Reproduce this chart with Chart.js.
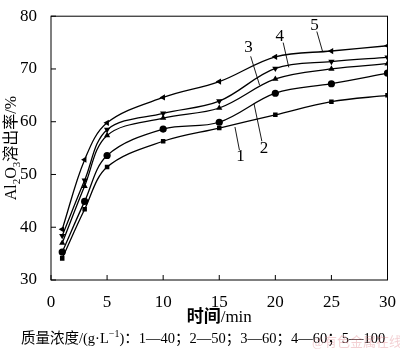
<!DOCTYPE html>
<html>
<head>
<meta charset="utf-8">
<script src="https://cdn.jsdelivr.net/npm/chart.js@4.4.0/dist/chart.umd.min.js"></script>
<style>
  html, body { margin: 0; padding: 0; background: #fff; }
  #wrap { width: 400px; height: 350px; }
</style>
</head>
<body>
<div id="wrap"><canvas id="chart"></canvas></div>
<script>
const times = [1, 3, 5, 10, 15, 20, 25, 30];
const conc1 = [34.1, 43.4, 51.4, 56.3, 58.8, 61.3, 63.8, 65.0];
const conc2 = [35.3, 44.9, 53.6, 58.6, 59.9, 65.4, 67.2, 69.2];
const conc3 = [37.0, 47.8, 57.4, 60.7, 62.6, 68.1, 70.0, 71.0];
const conc4 = [38.4, 48.9, 58.5, 61.6, 63.9, 70.1, 71.4, 72.2];
const conc5 = [39.6, 52.8, 59.8, 64.6, 67.6, 72.3, 73.4, 74.4];
const xTicks = [0, 5, 10, 15, 20, 25, 30];
const yTicks = [30, 40, 50, 60, 70, 80];

// curve labels: [text, label x, label y, leader from x/y, leader to x/y] in data units
const curveLabels = [
    ['1', 16.9, 53.4, 16.8, 54.6, 16.4, 59.0],
    ['2', 19.0, 55.0, 18.8, 56.3, 18.1, 63.4],
    ['3', 17.6, 74.0, 17.8, 72.4, 18.6, 66.9],
    ['4', 20.4, 76.2, 20.7, 75.0, 21.2, 70.3],
    ['5', 23.5, 78.2, 23.7, 77.1, 24.2, 73.4]
];

const serif = '"Liberation Serif", "Times New Roman", serif';
const cjk = '"Liberation Serif", "Noto Sans CJK SC", serif';

function makeSet(vals, style, rot) {
    return {
        data: times.map((t, i) => ({ x: t, y: vals[i] })),
        borderColor: '#000',
        backgroundColor: '#000',
        borderWidth: 1.3,
        pointStyle: style,
        rotation: rot,
        pointRadius: style === 'rect' ? 3.2 : 3.6,
        pointBorderWidth: 0,
        tension: 0.35,
        fill: false
    };
}

const framePlugin = {
    id: 'frame',
    afterDraw(chart) {
        const c = chart.ctx;
        const a = chart.chartArea;
        const xs = chart.scales.x, ys = chart.scales.y;
        c.save();
        c.strokeStyle = '#000';
        c.lineWidth = 1;
        c.strokeRect(a.left, a.top, a.right - a.left, a.bottom - a.top);
        c.beginPath();
        xTicks.forEach(v => {
            const px = xs.getPixelForValue(v);
            c.moveTo(px, a.bottom);
            c.lineTo(px, a.bottom - 5);
        });
        yTicks.forEach(v => {
            const py = ys.getPixelForValue(v);
            c.moveTo(a.left, py);
            c.lineTo(a.left + 5, py);
        });
        c.stroke();

        // curve labels with leader lines
        c.lineWidth = 0.9;
        c.fillStyle = '#000';
        c.font = '17px ' + serif;
        c.textAlign = 'center';
        c.textBaseline = 'middle';
        curveLabels.forEach(l => {
            c.beginPath();
            c.moveTo(xs.getPixelForValue(l[3]), ys.getPixelForValue(l[4]));
            c.lineTo(xs.getPixelForValue(l[5]), ys.getPixelForValue(l[6]));
            c.stroke();
            c.fillText(l[0], xs.getPixelForValue(l[1]), ys.getPixelForValue(l[2]));
        });

        // y axis title with subscripts
        const parts = [
            ['Al', 16, 0], ['2', 11, 4], ['O', 16, 0], ['3', 11, 4], ['溶出率/%', 16, 0]
        ];
        c.textAlign = 'left';
        c.textBaseline = 'alphabetic';
        let total = 0;
        parts.forEach(p => { c.font = p[1] + 'px ' + cjk; p.push(c.measureText(p[0]).width); total += p[3]; });
        c.translate(16, (a.top + a.bottom) / 2);
        c.rotate(-Math.PI / 2);
        let x0 = -total / 2;
        parts.forEach(p => {
            c.font = p[1] + 'px ' + cjk;
            c.fillText(p[0], x0, 0 + p[2]);
            x0 += p[3];
        });
        c.restore();

        // x axis title and concentration note
        c.save();
        c.fillStyle = '#000';
        c.textAlign = 'left';
        c.textBaseline = 'middle';
        const t1 = '时间', t2 = '/min';
        c.font = 'bold 17px ' + cjk;
        const w1 = c.measureText(t1).width;
        c.font = '17px ' + serif;
        const w2 = c.measureText(t2).width;
        let tx = (a.left + a.right) / 2 - (w1 + w2) / 2;
        c.font = 'bold 17px ' + cjk;
        c.fillText(t1, tx, 318);
        c.font = '17px ' + serif;
        c.fillText(t2, tx + w1, 318);

        c.font = '14.5px ' + cjk;
        const note1 = '质量浓度/(g·L';
        const sup = '−1';
        const note2 = ')：1—40；2—50；3—60；4—60；5—100';
        let nx = 21;
        c.fillText(note1, nx, 339);
        nx += c.measureText(note1).width;
        c.font = '10px ' + cjk;
        c.fillText(sup, nx, 334);
        nx += c.measureText(sup).width;
        c.font = '14.5px ' + cjk;
        c.fillText(note2, nx, 339);
        c.font = '13px ' + cjk;
        c.fillStyle = 'rgba(220,120,130,0.35)';
        c.fillText('@有色金属在线', 312, 343);
        c.restore();
    }
};

new Chart(document.getElementById('chart'), {
    type: 'line',
    data: {
        datasets: [
            makeSet(conc1, 'rect', 0),
            makeSet(conc2, 'circle', 0),
            makeSet(conc3, 'triangle', 0),
            makeSet(conc4, 'triangle', 180),
            makeSet(conc5, 'triangle', 270)
        ]
    },
    options: {
        responsive: true,
        maintainAspectRatio: false,
        animation: false,
        layout: { padding: { top: 6, right: 8, left: 0, bottom: 0 } },
        plugins: { legend: { display: false }, tooltip: { enabled: false } },
        scales: {
            x: {
                type: 'linear',
                min: 0, max: 30,
                afterBuildTicks: s => { s.ticks = xTicks.map(v => ({ value: v })); },
                afterFit: s => { s.height = 70; },
                grid: { display: false },
                border: { display: false },
                ticks: { color: '#000', padding: 4, maxRotation: 0, font: { family: serif, size: 17 } }
            },
            y: {
                min: 30, max: 80,
                afterBuildTicks: s => { s.ticks = yTicks.map(v => ({ value: v })); },
                afterFit: s => { s.width = 51; },
                grid: { display: false },
                border: { display: false },
                ticks: { color: '#000', padding: 6, font: { family: serif, size: 17 } }
            }
        }
    },
    plugins: [framePlugin]
});
</script>
</body>
</html>
